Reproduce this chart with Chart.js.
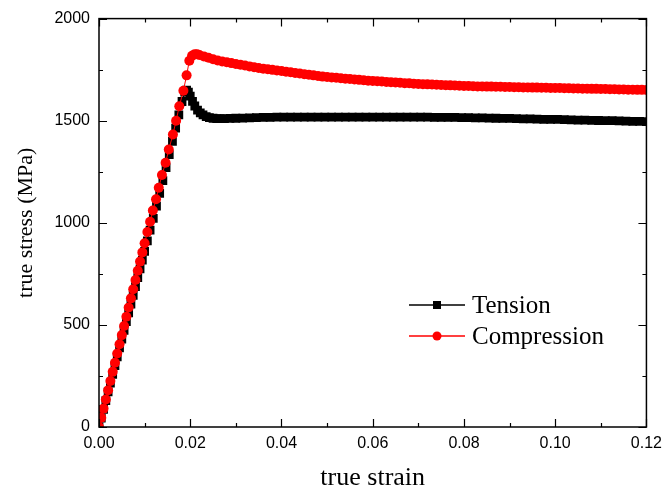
<!DOCTYPE html>
<html>
<head>
<meta charset="utf-8">
<script src="https://cdn.jsdelivr.net/npm/chart.js@4.4.0/dist/chart.umd.min.js"></script>
<style>
html,body{margin:0;padding:0;background:#fff;}
#c{display:block;}
</style>
</head>
<body>
<canvas id="c" width="669" height="496"></canvas>
<script>
// ---- data ----
const tensionStrain = [0, 0.0005, 0.0010, 0.0015, 0.0020, 0.0025, 0.0030, 0.0035, 0.0040, 0.0045, 0.0050, 0.0055, 0.0060, 0.0065, 0.0070, 0.0075, 0.0080, 0.0085, 0.0090, 0.0095, 0.0100, 0.0106, 0.0112, 0.0119, 0.0126, 0.0133, 0.0140, 0.0147, 0.0154, 0.0161, 0.0168, 0.0175, 0.0182, 0.0188, 0.0192, 0.0196, 0.0200, 0.0205, 0.0210, 0.0216, 0.0222, 0.0228, 0.0235, 0.0242, 0.0250, 0.0258, 0.0266, 0.0275, 0.0287,
  0.0300, 0.0315, 0.0330, 0.0345, 0.0360, 0.0375, 0.0390, 0.0405, 0.0420, 0.0435, 0.0450, 0.0465, 0.0480, 0.0495, 0.0510, 0.0525, 0.0540, 0.0555, 0.0570, 0.0585, 0.0600, 0.0615, 0.0630, 0.0645, 0.0660, 0.0675, 0.0690, 0.0705, 0.0720, 0.0735, 0.0750, 0.0765, 0.0780, 0.0795, 0.0810, 0.0825, 0.0840, 0.0855, 0.0870, 0.0885, 0.0900, 0.0915, 0.0930, 0.0945, 0.0960, 0.0975, 0.0990, 0.1005, 0.1020, 0.1035, 0.1050, 0.1065, 0.1080, 0.1095, 0.1110, 0.1125, 0.1140, 0.1155, 0.1170, 0.1185, 0.1200];
const tensionStress = [0, 43, 86, 129, 172, 215, 258, 301, 344, 387, 430, 473, 516, 559, 602, 645, 688, 731, 774, 817, 860, 912, 964, 1022, 1082, 1144, 1206, 1270, 1334, 1399, 1464, 1529, 1594, 1640, 1650, 1640, 1620, 1595, 1572, 1552, 1538, 1528, 1520, 1515, 1512, 1510, 1510, 1510, 1511,
  1512, 1513, 1514, 1515, 1516, 1516, 1517, 1517, 1517, 1517, 1517, 1517, 1517, 1517, 1517, 1517, 1517, 1517, 1517, 1517, 1517, 1517, 1517, 1517, 1517, 1517, 1517, 1517, 1517, 1516, 1516, 1516, 1516, 1515, 1515, 1514, 1514, 1513, 1512, 1511, 1511, 1510, 1509, 1509, 1508, 1507, 1506, 1506, 1505, 1504, 1503, 1503, 1502, 1501, 1500, 1500, 1499, 1498, 1497, 1497, 1496];

const compressionStrain = [0, 0.0005, 0.0010, 0.0015, 0.0020, 0.0025, 0.0030, 0.0035, 0.0040, 0.0045, 0.0050, 0.0055, 0.0060, 0.0065, 0.0070, 0.0075, 0.0080, 0.0085, 0.0090, 0.0095, 0.0100, 0.0106, 0.0112, 0.0118, 0.0125, 0.0131, 0.0138, 0.0146, 0.0153, 0.0162, 0.0169, 0.0176, 0.0185, 0.0192, 0.0198, 0.0204, 0.0210, 0.0215,
  0.022, 0.023, 0.024, 0.025, 0.026, 0.027, 0.028, 0.029, 0.030, 0.031, 0.032, 0.033, 0.034, 0.035, 0.036, 0.037, 0.038, 0.039, 0.040, 0.041, 0.042, 0.043, 0.044, 0.045, 0.046, 0.047, 0.048, 0.049, 0.050, 0.051, 0.052, 0.053, 0.054, 0.055, 0.056, 0.057, 0.058, 0.059, 0.060, 0.061, 0.062, 0.063, 0.064, 0.065, 0.066, 0.067, 0.068, 0.069, 0.070, 0.071, 0.072, 0.073, 0.074, 0.075, 0.076, 0.077, 0.078, 0.079, 0.080, 0.081, 0.082, 0.083, 0.084, 0.085, 0.086, 0.087, 0.088, 0.089, 0.090, 0.091, 0.092, 0.093, 0.094, 0.095, 0.096, 0.097, 0.098, 0.099, 0.100, 0.101, 0.102, 0.103, 0.104, 0.105, 0.106, 0.107, 0.108, 0.109, 0.110, 0.111, 0.112, 0.113, 0.114, 0.115, 0.116, 0.117, 0.118, 0.119, 0.120];
const compressionStress = [0, 45, 90, 135, 180, 225, 270, 315, 360, 405, 450, 495, 540, 585, 630, 675, 720, 765, 810, 855, 900, 955, 1005, 1060, 1115, 1172, 1234, 1294, 1359, 1432, 1500, 1571, 1647, 1722, 1794, 1818, 1826, 1825,
  1822, 1815, 1808, 1801, 1795, 1790, 1786, 1782, 1778, 1774, 1770, 1766, 1762, 1758, 1755, 1752, 1749, 1746, 1743, 1740, 1737, 1734, 1731, 1728, 1725, 1722, 1719, 1716, 1714, 1712, 1710, 1708, 1706, 1704, 1702, 1700, 1698, 1696, 1695, 1693, 1692, 1690, 1688, 1687, 1686, 1684, 1683, 1681, 1680, 1679, 1678, 1677, 1676, 1675, 1674, 1673, 1672, 1671, 1670, 1670, 1669, 1668, 1668, 1667, 1667, 1666, 1666, 1665, 1665, 1664, 1664, 1663, 1663, 1662, 1662, 1661, 1661, 1660, 1660, 1660, 1659, 1659, 1658, 1658, 1657, 1657, 1656, 1656, 1655, 1655, 1654, 1654, 1653, 1653, 1652, 1652, 1651, 1651, 1650];

const xMajorTicks = [0, 0.02, 0.04, 0.06, 0.08, 0.10, 0.12];
const xMinorTicks = [0.01, 0.03, 0.05, 0.07, 0.09, 0.11];
const yMajorTicks = [0, 500, 1000, 1500, 2000];
const yMinorTicks = [250, 750, 1250, 1750];
const seriesNames = ['Tension', 'Compression'];

const toPoints = (xs, ys) => xs.map((x, i) => ({x: x, y: ys[i]}));

const framePlugin = {
  id: 'frame',
  afterDraw(chart) {
    const ctx = chart.ctx;
    const a = chart.chartArea;
    const xs = chart.scales.x, ys = chart.scales.y;
    ctx.save();
    ctx.strokeStyle = '#000';
    ctx.lineWidth = 1.5;
    ctx.strokeRect(a.left, a.top, a.right - a.left, a.bottom - a.top);
    ctx.lineWidth = 1.2;
    const major = 8, minor = 4;
    ctx.beginPath();
    xMajorTicks.concat(xMinorTicks).forEach((v, i) => {
      const len = i < xMajorTicks.length ? major : minor;
      const px = Math.round(xs.getPixelForValue(v)) + 0.5;
      ctx.moveTo(px, a.bottom); ctx.lineTo(px, a.bottom - len);
      ctx.moveTo(px, a.top); ctx.lineTo(px, a.top + len);
    });
    yMajorTicks.concat(yMinorTicks).forEach((v, i) => {
      const len = i < yMajorTicks.length ? major : minor;
      const py = Math.round(ys.getPixelForValue(v)) + 0.5;
      ctx.moveTo(a.left, py); ctx.lineTo(a.left + len, py);
      ctx.moveTo(a.right, py); ctx.lineTo(a.right - len, py);
    });
    ctx.stroke();

    // legend
    const lx0 = 409, lx1 = 465, tx = 472;
    const rows = [
      {y: 305, color: '#000', style: 'rect', label: seriesNames[0]},
      {y: 336, color: '#ff0000', style: 'circle', label: seriesNames[1]}
    ];
    rows.forEach(r => {
      ctx.strokeStyle = r.color;
      ctx.lineWidth = 1.5;
      ctx.beginPath();
      ctx.moveTo(lx0, r.y); ctx.lineTo(lx1, r.y);
      ctx.stroke();
      ctx.fillStyle = r.color;
      const cx = (lx0 + lx1) / 2;
      if (r.style === 'rect') {
        ctx.fillRect(cx - 4, r.y - 4, 8, 8);
      } else {
        ctx.beginPath(); ctx.arc(cx, r.y, 4.5, 0, Math.PI * 2); ctx.fill();
      }
      ctx.fillStyle = '#000';
      ctx.font = '25px "Liberation Serif", "Times New Roman", serif';
      ctx.textBaseline = 'middle';
      ctx.textAlign = 'left';
      ctx.fillText(r.label, tx, r.y + 1);
    });
    ctx.restore();
  }
};

new Chart(document.getElementById('c'), {
  type: 'line',
  data: {
    datasets: [
      {
        label: seriesNames[0],
        data: toPoints(tensionStrain, tensionStress),
        borderColor: '#000',
        backgroundColor: '#000',
        borderWidth: 1,
        pointStyle: 'rect',
        pointRadius: 6.2,
        pointBorderWidth: 0,
        order: 1
      },
      {
        label: seriesNames[1],
        data: toPoints(compressionStrain, compressionStress),
        borderColor: '#ff0000',
        backgroundColor: '#ff0000',
        borderWidth: 1,
        pointStyle: 'circle',
        pointRadius: 5,
        pointBorderWidth: 0,
        order: 0
      }
    ]
  },
  options: {
    responsive: false,
    animation: false,
    devicePixelRatio: 1,
    layout: {padding: {top: 17, right: 18, left: 8, bottom: 0}},
    plugins: {legend: {display: false}, tooltip: {enabled: false}},
    scales: {
      x: {
        type: 'linear', min: 0, max: 0.12,
        afterBuildTicks: s => { s.ticks = xMajorTicks.map(v => ({value: v})); },
        afterFit: s => { s.height = 496 - 427; },
        grid: {display: false, drawTicks: false},
        border: {display: false},
        ticks: {
          callback: v => Number(v).toFixed(2),
          color: '#000', padding: 7, maxRotation: 0, autoSkip: false,
          font: {family: '"Liberation Sans", Arial, sans-serif', size: 16}
        },
        title: {
          display: true, text: 'true strain', color: '#000',
          padding: {top: 0, bottom: 2},
          font: {family: '"Liberation Serif", "Times New Roman", serif', size: 26}
        }
      },
      y: {
        type: 'linear', min: 0, max: 2000,
        afterBuildTicks: s => { s.ticks = yMajorTicks.map(v => ({value: v})); },
        afterFit: s => { s.width = 99 - 8; },
        grid: {display: false, drawTicks: false},
        border: {display: false},
        ticks: {
          callback: v => String(v),
          color: '#000', padding: 9, autoSkip: false,
          font: {family: '"Liberation Sans", Arial, sans-serif', size: 16}
        },
        title: {
          display: true, text: 'true stress (MPa)', color: '#000',
          padding: {top: 5, bottom: 0},
          font: {family: '"Liberation Serif", "Times New Roman", serif', size: 22}
        }
      }
    }
  },
  plugins: [framePlugin]
});
</script>
</body>
</html>
